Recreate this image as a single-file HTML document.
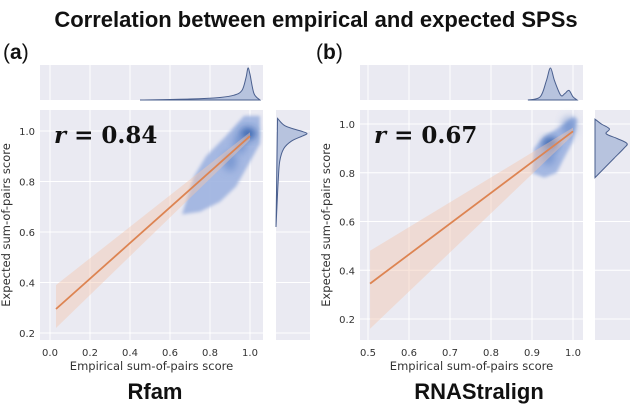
<!DOCTYPE html>
<html><head><meta charset="utf-8"><style>
body{margin:0;background:#fff;width:633px;height:414px;overflow:hidden}
svg{font-family:"DejaVu Sans","Liberation Sans",sans-serif}
</style></head><body>
<svg id="fig" width="633" height="414" viewBox="0 0 633 414" xmlns="http://www.w3.org/2000/svg">
<defs>
<filter id="blur" x="-50%" y="-50%" width="200%" height="200%"><feGaussianBlur stdDeviation="4"/></filter>
<filter id="blur2" x="-50%" y="-50%" width="200%" height="200%"><feGaussianBlur stdDeviation="1.5"/></filter>
</defs>
<text x="316" y="27" text-anchor="middle" font-family="Liberation Sans, sans-serif" font-weight="bold" font-size="22" fill="#111">Correlation between empirical and expected SPSs</text>
<text x="3" y="59" font-family="Liberation Sans, sans-serif" font-size="21" fill="#111">(<tspan font-weight="bold">a</tspan>)</text>
<text x="316" y="59" font-family="Liberation Sans, sans-serif" font-size="21" fill="#111">(<tspan font-weight="bold">b</tspan>)</text>
<text x="155" y="399" text-anchor="middle" font-family="Liberation Sans, sans-serif" font-weight="bold" font-size="22" fill="#111">Rfam</text>
<text x="479" y="399" text-anchor="middle" font-family="Liberation Sans, sans-serif" font-weight="bold" font-size="22" fill="#111">RNAStralign</text>
<g id="pa"></g><g id="pb"></g>
</svg>
<script>
// Panel A data
const aXTicks=[0.0,0.2,0.4,0.6,0.8,1.0];
const aYTicks=[0.2,0.4,0.6,0.8,1.0];
const aR="0.84";
const aFitX=[0.03,1.0];
const aFitY=[0.295,0.98];
const aCiLow=[0.22,0.965];
const aCiHigh=[0.39,0.995];
const aKdeX=[0.66,0.75,0.85,0.93,0.98,1.05,1.05,0.97,0.88,0.78,0.72,0.66];
const aKdeY=[0.67,0.68,0.72,0.78,0.85,0.95,1.06,1.06,0.98,0.9,0.82,0.67];
const aCoreX=[0.99,0.95,0.90];
const aCoreY=[0.99,0.95,0.88];
const aTopX=[0.45,0.7,0.85,0.92,0.96,0.98,0.99,1.0,1.02,1.05];
const aTopD=[0,0.03,0.08,0.15,0.3,0.7,1.0,0.8,0.2,0];
const aSideY=[0.62,0.7,0.8,0.88,0.93,0.96,0.98,0.99,1.0,1.02,1.05];
const aSideD=[0,0.03,0.07,0.12,0.25,0.5,0.85,1.0,0.8,0.3,0.05];
// Panel B data
const bXTicks=[0.5,0.6,0.7,0.8,0.9,1.0];
const bYTicks=[0.2,0.4,0.6,0.8,1.0];
const bR="0.67";
const bFitX=[0.505,1.0];
const bFitY=[0.345,0.97];
const bCiLow=[0.16,0.955];
const bCiHigh=[0.48,0.985];
const bKdeX=[0.9,0.93,0.96,0.975,1.0,1.01,1.0,0.97,0.93,0.905];
const bKdeY=[0.8,0.78,0.8,0.85,0.93,1.02,1.03,0.99,0.95,0.9];
const bCoreX=[0.945,0.94,0.99];
const bCoreY=[0.92,0.87,0.99];
const bTopX=[0.89,0.92,0.935,0.945,0.955,0.97,0.98,0.99,1.0,1.01];
const bTopD=[0,0.1,0.6,1.0,0.6,0.15,0.2,0.3,0.1,0];
const bSideY=[0.78,0.82,0.86,0.9,0.92,0.94,0.96,0.98,1.0,1.02];
const bSideD=[0,0.3,0.6,0.9,1.0,0.7,0.35,0.45,0.2,0];

const NS="http://www.w3.org/2000/svg";
function mk(p,tag,at){const e=document.createElementNS(NS,tag);for(const k in at)e.setAttribute(k,at[k]);p.appendChild(e);return e;}
function smooth(pts){
 let d=`M${pts[0][0]},${pts[0][1]}`;
 for(let i=0;i<pts.length-1;i++){
  const p0=pts[Math.max(i-1,0)],p1=pts[i],p2=pts[i+1],p3=pts[Math.min(i+2,pts.length-1)];
  d+=`C${p1[0]+(p2[0]-p0[0])/6},${p1[1]+(p2[1]-p0[1])/6} ${p2[0]-(p3[0]-p1[0])/6},${p2[1]-(p3[1]-p1[1])/6} ${p2[0]},${p2[1]}`;
 }
 return d;
}

function panel(g,cfg){
 const {L,R,T,B,x0,x1,xv0,xv1,y0,y1,yv0,yv1,mT,mB,sL,sR}=cfg;
 const sx=v=>x0+(v-xv0)/(xv1-xv0)*(x1-x0);
 const sy=v=>y0+(v-yv0)/(yv1-yv0)*(y1-y0);
 let e;
 e=mk(g,'rect',{x:L,y:T,width:R-L,height:B-T,fill:'#eaeaf2'});
 
 e=mk(g,'rect',{x:L,y:mT,width:R-L,height:mB-mT,fill:'#eaeaf2'});
 
 e=mk(g,'rect',{x:sL,y:T,width:sR-sL,height:B-T,fill:'#eaeaf2'});
 
 cfg.xt.forEach(v=>{
  const l=mk(g,'line',{x1:sx(v),x2:sx(v),y1:T,y2:B,stroke:'#fff','stroke-width':1});
  
  const l2=mk(g,'line',{x1:sx(v),x2:sx(v),y1:mT,y2:mB,stroke:'#fff','stroke-width':1});
  
  const t=mk(g,'text',{x:sx(v),y:B+16,'text-anchor':'middle','font-size':10,fill:'#333'});
  t.textContent=v.toFixed(1);
  
 });
 cfg.yt.forEach(v=>{
  const l=mk(g,'line',{x1:L,x2:R,y1:sy(v),y2:sy(v),stroke:'#fff','stroke-width':1});
  
  const l2=mk(g,'line',{x1:sL,x2:sR,y1:sy(v),y2:sy(v),stroke:'#fff','stroke-width':1});
  
  const t=mk(g,'text',{x:L-5,y:sy(v)+4,'text-anchor':'end','font-size':10,fill:'#333'});
  t.textContent=v.toFixed(1);
  
 });
 const kd=cfg.kx.map((v,i)=>(i?'L':'M')+sx(v)+','+sy(cfg.ky[i])).join('')+'Z';
 e=mk(g,'path',{d:kd,fill:'#9db2e0','fill-opacity':0.9,filter:'url(#blur2)'});
 
 cfg.cx.forEach((v,i)=>{
  const c=mk(g,'ellipse',{cx:sx(v),cy:sy(cfg.cy[i]),rx:i==0?8:7,ry:i==0?6:10,fill:i==0?'#2a5aa8':'#5a80c4','fill-opacity':i==0?0.9:0.55,filter:'url(#blur)'});
  
 });
 const bd=`M${sx(cfg.fx[0])},${sy(cfg.lo[0])}L${sx(cfg.fx[1])},${sy(cfg.lo[1])}L${sx(cfg.fx[1])},${sy(cfg.hi[1])}L${sx(cfg.fx[0])},${sy(cfg.hi[0])}Z`;
 e=mk(g,'path',{d:bd,fill:'#f4c8b0','fill-opacity':0.45});
 
 e=mk(g,'line',{x1:sx(cfg.fx[0]),y1:sy(cfg.fy[0]),x2:sx(cfg.fx[1]),y2:sy(cfg.fy[1]),stroke:'#dd8452','stroke-width':1.8});
 
 const tmax=mB-mT-3;
 const tp=cfg.tx.map((v,i)=>[sx(v),mB-cfg.td[i]*tmax]);
 e=mk(g,'path',{d:smooth(tp)+'Z',fill:'#b7c3de',stroke:'#4a5f8e','stroke-width':1});
 
 const smax=sR-sL-3;
 const sp=cfg.sy.map((v,i)=>[sL+cfg.sd[i]*smax,sy(v)]);
 e=mk(g,'path',{d:smooth(sp)+'Z',fill:'#b7c3de',stroke:'#4a5f8e','stroke-width':1});
 
 e=mk(g,'text',{x:L+14,y:T+33,'font-family':'DejaVu Serif, Liberation Serif, serif','font-weight':'bold','font-size':23,fill:'#111'});
 e.innerHTML='<tspan font-style="italic">r</tspan> = '+cfg.r;
 
 e=mk(g,'text',{x:(L+R)/2,y:B+30,'text-anchor':'middle','font-size':11.5,fill:'#333'});
 e.textContent='Empirical sum-of-pairs score';
 
 const yx=L-30;
 e=mk(g,'text',{x:yx,y:(T+B)/2,'text-anchor':'middle','font-size':11.5,fill:'#333',transform:`rotate(-90 ${yx} ${(T+B)/2})`});
 e.textContent='Expected sum-of-pairs score';
 
}
panel(document.getElementById('pa'),{L:40,R:263,T:110,B:340,x0:50,x1:250,xv0:0,xv1:1,y0:131,y1:333,yv0:1,yv1:0.2,mT:65,mB:100,sL:276,sR:310,
 xt:aXTicks,yt:aYTicks,r:aR,fx:aFitX,fy:aFitY,lo:aCiLow,hi:aCiHigh,kx:aKdeX,ky:aKdeY,cx:aCoreX,cy:aCoreY,tx:aTopX,td:aTopD,sy:aSideY,sd:aSideD});
panel(document.getElementById('pb'),{L:360,R:583,T:110,B:340,x0:368,x1:573,xv0:0.5,xv1:1,y0:124,y1:319,yv0:1,yv1:0.2,mT:65,mB:100,sL:595,sR:630,
 xt:bXTicks,yt:bYTicks,r:bR,fx:bFitX,fy:bFitY,lo:bCiLow,hi:bCiHigh,kx:bKdeX,ky:bKdeY,cx:bCoreX,cy:bCoreY,tx:bTopX,td:bTopD,sy:bSideY,sd:bSideD});
</script>
</body></html>
